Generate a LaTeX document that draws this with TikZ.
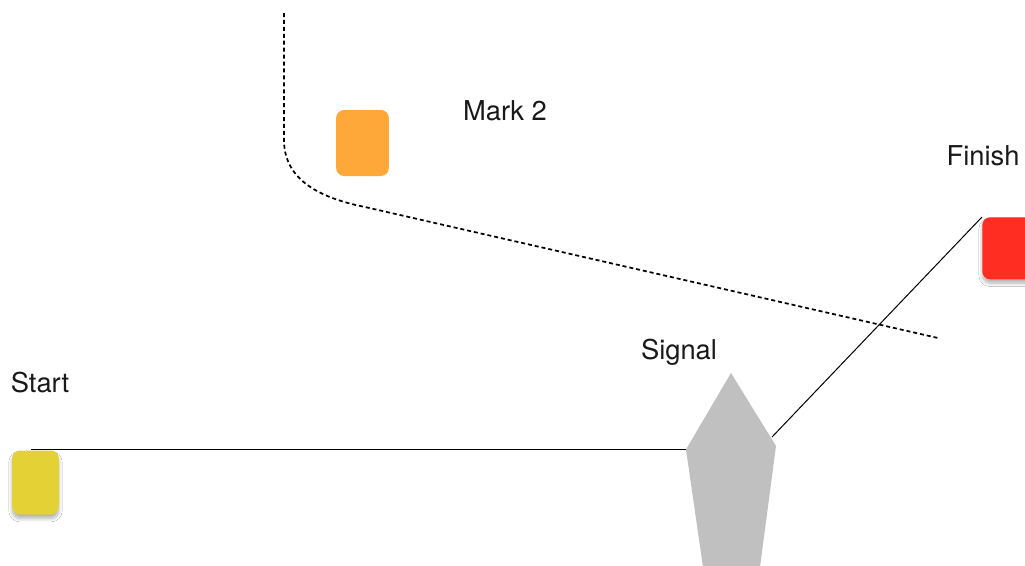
\documentclass[tikz,border=0pt]{standalone}
\usepackage{fontspec}
\setmainfont{TeX Gyre Heros}
\usetikzlibrary{shadows.blur}
\definecolor{startyel}{HTML}{E3D136}
\definecolor{markorange}{HTML}{FFA83A}
\definecolor{finishred}{HTML}{FF2D22}
\definecolor{signalgray}{HTML}{C0C0C0}
\begin{document}
\begin{tikzpicture}[x=0.75pt,y=-0.75pt,
  buoy/.style={rounded corners=6pt,inner sep=0pt,draw=none},
  shad/.style={blur shadow={shadow xshift=0pt,shadow yshift=-3pt,shadow blur radius=2.5pt,shadow blur steps=8,shadow opacity=30}},
  lbl/.style={font=\fontsize{20.5}{24}\selectfont,inner sep=0pt,text=black!90},
  course/.style={draw=black,line width=0.75pt},
  layline/.style={draw=black,line width=1.3pt,dash pattern=on 3pt off 2.2pt}]
\useasboundingbox (0,0) rectangle (1025,565);
\fill[white] (0,0) rectangle (1025,565);
% dashed layline
\coordinate (d0) at (284,13);
\coordinate (d1) at (284,140);
\coordinate (d2) at (365,207);
\coordinate (d3) at (938,338);
\draw[layline] (d0) -- (d1) .. controls (284,180) and (320,198) .. (d2) -- (d3);
% buoys
\node[buoy,shad,fill=startyel,minimum width=35pt,minimum height=48pt] (start) at (35.5,482.5) {};
\node[buoy,fill=markorange,minimum width=39.5pt,minimum height=49.5pt] (mark) at (362.5,143) {};
\node[buoy,shad,fill=finishred,minimum width=40pt,minimum height=46.5pt,anchor=north west] (finish) at (982,217) {};
% signal boat
\coordinate (sigtop) at (731,373);
\coordinate (sigleft) at (686,449.5);
\coordinate (sigright) at (776,446);
\coordinate (sigbr) at (760,567);
\coordinate (sigbl) at (703,567);
\fill[signalgray] (sigtop) -- (sigright) -- (sigbr) -- (sigbl) -- (sigleft) -- cycle;
\coordinate (sigline) at (772,437);
\coordinate (startline) at (31,449.5);
% lines
\draw[course] (startline) -- (sigleft);
\draw[course] (sigline) -- (finish.north west);
% labels
\node[lbl] (startlbl) at (40,383) {Start};
\node[lbl] (marklbl) at (505,111) {Mark 2};
\node[lbl] (signallbl) at (679,352) {Signal};
\node[lbl] (finishlbl) at (983,156) {Finish};
\end{tikzpicture}
\end{document}
